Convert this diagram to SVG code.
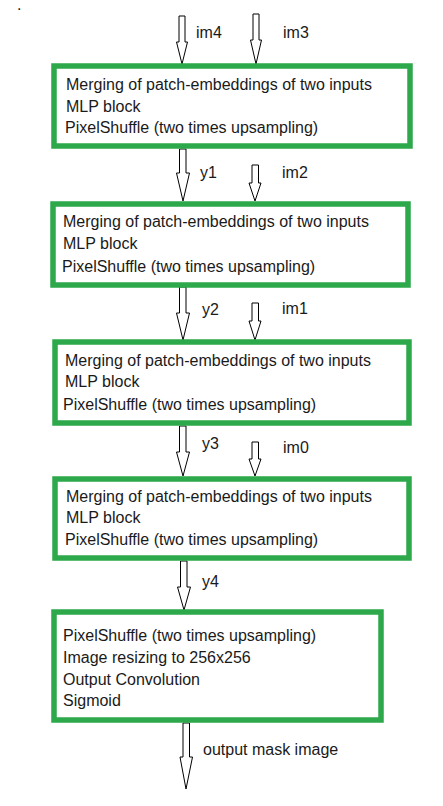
<svg xmlns="http://www.w3.org/2000/svg" width="443" height="806" viewBox="0 0 443 806">
<style>
.box{fill:#ffffff;stroke:#2DA84A;stroke-width:5.5}
.arr{fill:#ffffff;stroke:#000000;stroke-width:1}
text{font-family:"Liberation Sans",Arial,sans-serif;font-size:16px;fill:#1a1a1a}
</style>
<rect width="443" height="806" fill="#ffffff"/>
<text x="17" y="10" font-size="7">.</text>
<g id="connectors">
<polygon class="arr" points="179,16 185,16 185,42 187.5,42 182,64 176.5,42 179,42"/>
<polygon class="arr" points="253,14 259,14 259,40 261.5,40 256,64 250.5,40 253,40"/>
<polygon class="arr" points="179.5,149 186,149 186,173 189.5,173 183,201 176.5,173 179.5,173"/>
<polygon class="arr" points="252,165 258.5,165 258.5,183 261,183 255,201 249,183 252,183"/>
<polygon class="arr" points="179.5,287 186,287 186,313 189.5,313 183,340 176.5,313 179.5,313"/>
<polygon class="arr" points="252,303 258.5,303 258.5,321 261,321 255,340 249,321 252,321"/>
<polygon class="arr" points="179.5,426 186,426 186,452 189.5,452 183,476 176.5,452 179.5,452"/>
<polygon class="arr" points="252,442 258.5,442 258.5,459 261,459 255,476 249,459 252,459"/>
<polygon class="arr" points="180.5,561 187,561 187,587 190.5,587 184,610 177.5,587 180.5,587"/>
<polygon class="arr" points="183,723 189.5,723 189.5,757 192.5,757 186,789 180,757 183,757"/>
<text x="196" y="38">im4</text>
<text x="283" y="38">im3</text>
<text x="200" y="178">y1</text>
<text x="282" y="178">im2</text>
<text x="202" y="315">y2</text>
<text x="282" y="314">im1</text>
<text x="202" y="449">y3</text>
<text x="283" y="453">im0</text>
<text x="202" y="587">y4</text>
<text x="203" y="755">output mask image</text>
</g>
<g id="block1">
<rect class="box" x="54" y="66" width="356" height="80"/>
<text x="66" y="90">Merging of patch-embeddings of two inputs</text>
<text x="66" y="112">MLP block</text>
<text x="65" y="133">PixelShuffle (two times upsampling)</text>
</g>
<g id="block2">
<rect class="box" x="53" y="204" width="355" height="81"/>
<text x="63" y="227">Merging of patch-embeddings of two inputs</text>
<text x="63" y="249">MLP block</text>
<text x="62" y="272">PixelShuffle (two times upsampling)</text>
</g>
<g id="block3">
<rect class="box" x="55" y="342" width="354" height="81"/>
<text x="65" y="366">Merging of patch-embeddings of two inputs</text>
<text x="65" y="387">MLP block</text>
<text x="63" y="410">PixelShuffle (two times upsampling)</text>
</g>
<g id="block4">
<rect class="box" x="55" y="479" width="354" height="79"/>
<text x="66" y="502">Merging of patch-embeddings of two inputs</text>
<text x="66" y="523">MLP block</text>
<text x="65" y="545">PixelShuffle (two times upsampling)</text>
</g>
<g id="block5">
<rect class="box" x="54" y="612" width="327" height="108"/>
<text x="63" y="641">PixelShuffle (two times upsampling)</text>
<text x="63" y="663">Image resizing to 256x256</text>
<text x="63" y="685">Output Convolution</text>
<text x="63" y="706">Sigmoid</text>
</g>
</svg>
